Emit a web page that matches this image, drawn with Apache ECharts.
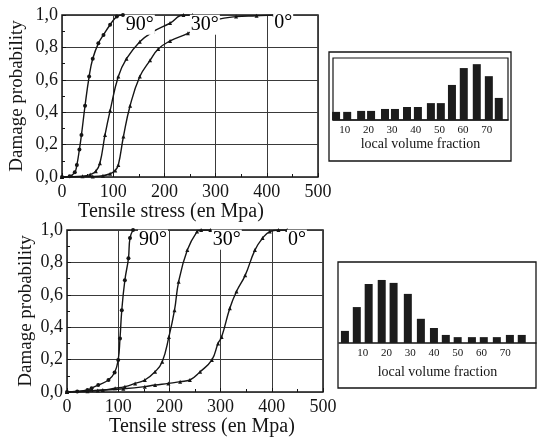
<!DOCTYPE html>
<html><head><meta charset="utf-8">
<script src="https://cdn.jsdelivr.net/npm/echarts@6/dist/echarts.min.js"></script>
<style>html,body{margin:0;padding:0;background:#fff}#c{width:537px;height:441px}</style>
</head><body><div id="c"></div>
<script>
// ---- tick labels ----
const probTicks = ['0,0','0,2','0,4','0,6','0,8','1,0'];
const stressTicks = ['0','100','200','300','400','500'];
const fractionTicks = ['10','20','30','40','50','60','70'];

// ---- upper chart: damage probability vs tensile stress ----
const topCurveA = [[0,0],[15,0.004],[25,0.03],[29,0.074],[34,0.17],[38,0.26],[45,0.44],[53,0.62],[60,0.73],[71,0.825],[81,0.877],[94,0.94],[107,0.99],[119,1.0]];
const topCurveB = [[0,0],[40,0.005],[55,0.015],[66,0.035],[74,0.085],[84,0.26],[94,0.41],[110,0.62],[126,0.73],[152,0.835],[178,0.897],[211,0.95],[237,1.0],[255,1.0]];
const topCurveC = [[0,0],[60,0.003],[80,0.008],[94,0.02],[104,0.04],[110,0.074],[120,0.25],[133,0.44],[152,0.62],[172,0.72],[188,0.79],[211,0.84],[246,0.887],[270,0.93],[300,0.97],[340,0.99],[380,0.995],[415,1.0]];
const topLabelText = ['90°','30°','0°'];
const topLabelX = [152, 279, 432];
const topLabelY = [0.94, 0.94, 0.95];

// ---- lower chart ----
const botCurveA = [[0,0],[20,0.003],[40,0.012],[48,0.023],[61,0.043],[81,0.074],[93,0.12],[100,0.198],[103.5,0.33],[107,0.505],[113,0.69],[120,0.825],[123,0.95],[129,1.0]];
const botCurveB = [[0,0],[40,0.005],[70,0.012],[94,0.023],[113,0.033],[133,0.053],[152,0.074],[172,0.125],[186,0.187],[199,0.34],[210,0.505],[218,0.68],[235,0.876],[254,0.99],[262,1.0],[280,1.0]];
const botCurveC = [[0,0],[60,0.01],[110,0.02],[152,0.033],[172,0.043],[198,0.053],[221,0.064],[240,0.074],[260,0.125],[283,0.198],[295,0.3],[302,0.34],[318,0.517],[331,0.62],[348,0.72],[367,0.876],[382,0.95],[396,0.99],[413,1.0],[430,1.0]];
const botLabelText = ['90°','30°','0°'];
const botLabelX = [168, 312, 449];
const botLabelY = [0.94, 0.94, 0.94];

// ---- inset histograms: local volume fraction ----
const topHistX = [6.3, 11, 16.9, 21.1, 27, 31.2, 36.3, 40.9, 46.4, 50.6, 55.3, 60.3, 65.8, 70.9, 75.1];
const topHistY = [2.5, 2.5, 2.8, 2.8, 3.4, 3.4, 4.0, 4.0, 5.2, 5.2, 10.8, 16.0, 17.2, 13.5, 6.8];
const botHistX = [2.5, 7.5, 12.5, 18, 23, 29, 34.5, 40, 45, 50, 56, 61, 66.5, 72, 77];
const botHistY = [3.3, 9.8, 16.1, 17.2, 16.4, 13.4, 6.6, 4.1, 2.2, 1.6, 1.6, 1.6, 1.6, 2.2, 2.2];

const FONT = "'Liberation Serif','DejaVu Serif',serif";
const INK = '#151515';

function zip(xs, ys) { return xs.map((x, i) => [x, ys[i]]); }
function labelData(xs, ys, ts) { return xs.map((x, i) => ({ value: [x, ys[i]], name: ts[i] })); }

function mainX(gi, gap, pad) {
  return {
    gridIndex: gi, type: 'value', min: 0, max: 500, interval: 100,
    name: 'Tensile stress (en Mpa)', nameLocation: 'middle', nameGap: gap,
    nameTextStyle: { fontFamily: FONT, fontSize: 20, color: INK, padding: pad },
    axisLine: { show: false },
    axisTick: { show: true, inside: true, length: 4, lineStyle: { color: INK } },
    minorTick: { show: true, splitNumber: 2, length: 3, lineStyle: { color: INK } },
    axisLabel: { fontFamily: FONT, fontSize: 18, color: INK, margin: 6,
      formatter: (v) => stressTicks[Math.round(v / 100)] },
    splitLine: { show: true, lineStyle: { color: '#3a3a3a', width: 1 } }
  };
}
function mainY(gi, gap) {
  return {
    gridIndex: gi, type: 'value', min: 0, max: 1, interval: 0.2,
    name: 'Damage probability', nameLocation: 'middle', nameGap: gap,
    nameTextStyle: { fontFamily: FONT, fontSize: 19, color: INK },
    axisLine: { show: false },
    axisTick: { show: true, inside: true, length: 4, lineStyle: { color: INK } },
    minorTick: { show: true, splitNumber: 2, length: 3, lineStyle: { color: INK } },
    axisLabel: { fontFamily: FONT, fontSize: 18, color: INK, margin: 4,
      formatter: (v) => probTicks[Math.round(v / 0.2)] },
    splitLine: { show: true, lineStyle: { color: '#3a3a3a', width: 1 } }
  };
}
function insetX(gi, min, max, gap) {
  return {
    gridIndex: gi, type: 'value', min: min, max: max,
    name: 'local volume fraction', nameLocation: 'middle', nameGap: gap,
    nameTextStyle: { fontFamily: FONT, fontSize: 14, color: INK },
    axisLine: { show: true, onZero: false, lineStyle: { color: INK, width: 1.5 } },
    axisTick: { show: false },
    axisLabel: { fontFamily: FONT, fontSize: 11, color: INK, margin: 5,
      customValues: fractionTicks.map(Number), formatter: (v) => String(v) },
    splitLine: { show: false }
  };
}
function insetY(gi, max) {
  return { gridIndex: gi, type: 'value', min: 0, max: max, show: false, splitLine: { show: false } };
}
function curve(xi, data, sym) {
  return {
    type: 'line', xAxisIndex: xi, yAxisIndex: xi, data: data, smooth: 0.45,
    symbol: sym, symbolSize: 4, showSymbol: true,
    lineStyle: { color: INK, width: 1.4 }, itemStyle: { color: INK }, z: 3
  };
}
function angleLabels(xi, data) {
  return {
    type: 'scatter', xAxisIndex: xi, yAxisIndex: xi, data: data, symbolSize: 1, silent: true,
    itemStyle: { opacity: 0 },
    label: { show: true, position: 'inside', formatter: '{b}', fontFamily: FONT, fontSize: 20,
      color: '#000', opacity: 1, backgroundColor: '#fff', padding: [0, 1] }, z: 5
  };
}
function hist(xi, data) {
  return {
    type: 'bar', xAxisIndex: xi, yAxisIndex: xi, data: data, barWidth: 8,
    itemStyle: { color: '#1c1c1c' }
  };
}

const option = {
  backgroundColor: '#fff',
  animation: false,
  grid: [
    { left: 62, top: 15, width: 256, height: 162, show: true, borderColor: INK, borderWidth: 1.5, backgroundColor: 'transparent' },
    { left: 333, top: 58, width: 175, height: 62, show: true, borderColor: INK, borderWidth: 1.2, backgroundColor: 'transparent' },
    { left: 67, top: 230, width: 256, height: 162, show: true, borderColor: INK, borderWidth: 1.5, backgroundColor: 'transparent' },
    { left: 339, top: 262, width: 197, height: 81 }
  ],
  xAxis: [ mainX(0, 22, [0, 38, 0, 0]), insetX(1, 5, 79, 14), mainX(2, 23, [0, 0, 0, 14]), insetX(3, 0, 83, 22) ],
  yAxis: [ mainY(0, 35), insetY(1, 19.1), mainY(2, 31), insetY(3, 22.1) ],
  graphic: [
    { type: 'rect', shape: { x: 329, y: 52, width: 182, height: 109 }, style: { fill: 'none', stroke: INK, lineWidth: 1.3 } },
    { type: 'rect', shape: { x: 338, y: 262, width: 198, height: 126 }, style: { fill: 'none', stroke: INK, lineWidth: 1.3 } }
  ],
  series: [
    curve(0, topCurveA, 'circle'), curve(0, topCurveB, 'triangle'), curve(0, topCurveC, 'triangle'),
    angleLabels(0, labelData(topLabelX, topLabelY, topLabelText)),
    hist(1, zip(topHistX, topHistY)),
    curve(2, botCurveA, 'circle'), curve(2, botCurveB, 'triangle'), curve(2, botCurveC, 'triangle'),
    angleLabels(2, labelData(botLabelX, botLabelY, botLabelText)),
    hist(3, zip(botHistX, botHistY))
  ]
};
const chart = echarts.init(document.getElementById('c'), null, { renderer: 'canvas' });
chart.setOption(option);
</script>
</body></html>
